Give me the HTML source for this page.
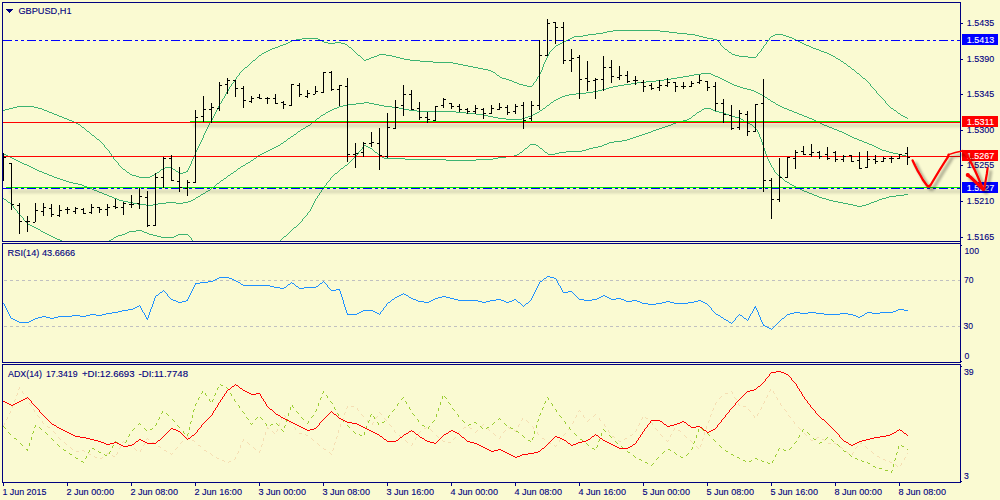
<!DOCTYPE html>
<html><head><meta charset="utf-8"><title>GBPUSD,H1</title>
<style>html,body{margin:0;padding:0;background:#FAFAD2;}body{width:1000px;height:500px;overflow:hidden;}svg{display:block;position:absolute;left:0;top:0;}text{font-family:"Liberation Sans",sans-serif;font-size:9.8px;fill:#000080;stroke:#000080;stroke-width:0.12px;}</style>
</head><body>
<svg width="1000" height="500" viewBox="0 0 1000 500">
<defs>
<clipPath id="cm"><rect x="3" y="3" width="957" height="238"/></clipPath>
<clipPath id="cr"><rect x="3" y="244" width="957" height="118"/></clipPath>
<clipPath id="ca"><rect x="3" y="365" width="957" height="117"/></clipPath>
<linearGradient id="sh" x1="0" y1="0" x2="0" y2="1"><stop offset="0" stop-color="#000" stop-opacity="0.07"/><stop offset="0.25" stop-color="#000" stop-opacity="0.115"/><stop offset="0.5" stop-color="#000" stop-opacity="0.08"/><stop offset="1" stop-color="#000" stop-opacity="0"/></linearGradient>
<filter id="ds" x="-20%" y="-20%" width="150%" height="150%"><feGaussianBlur in="SourceAlpha" stdDeviation="1.6"/><feOffset dx="3" dy="3" result="o"/><feComponentTransfer><feFuncA type="linear" slope="0.45"/></feComponentTransfer><feMerge><feMergeNode/><feMergeNode in="SourceGraphic"/></feMerge></filter>
<filter id="bl" x="-5%" y="-300%" width="110%" height="700%"><feGaussianBlur stdDeviation="1.5"/></filter>
</defs>
<rect width="1000" height="500" fill="#FAFAD2"/>
<g clip-path="url(#cm)" shape-rendering="crispEdges">
<path fill="none" stroke="#3CB371" stroke-width="1" d="M104.5 145v2M109.5 151v2M111.5 154v2M113.5 157v2M118.5 163v2M187.5 170v2M188.5 168v2M189.5 166v2M190.5 164v2M191.5 161v3M192.5 159v2M193.5 157v2M194.5 155v2M195.5 152v3M196.5 150v2M197.5 148v2M198.5 146v2M199.5 144v2M200.5 142v2M201.5 140v2M202.5 138v2M203.5 135v3M204.5 133v2M205.5 131v2M206.5 129v2M207.5 127v2M208.5 125v2M209.5 123v2M211.5 120v2M212.5 118v2M213.5 116v2M214.5 114v2M215.5 112v2M216.5 110v2M217.5 108v2M218.5 106v2M219.5 104v2M221.5 101v2M222.5 99v2M224.5 96v2M225.5 94v2M226.5 92v2M228.5 89v2M229.5 87v2M231.5 84v2M234.5 80v2M236.5 77v2M239.5 73v2M533.5 83v2M536.5 79v2M537.5 77v2M539.5 74v2M540.5 72v2M541.5 70v2M542.5 67v3M543.5 64v3M544.5 62v2M545.5 60v2M546.5 58v2M547.5 56v2M548.5 54v2M549.5 52v2M720.5 43v2M757.5 54v2M761.5 49v2M763.5 46v2M766.5 42v2M769.5 38v2M870.5 84v2M876.5 91v2M885.5 101v2M613 30.5h47M607 31.5h6M660 31.5h9M603 32.5h4M669 32.5h8M596 33.5h7M677 33.5h10M588 34.5h8M687 34.5h8M775 34.5h8M583 35.5h5M695 35.5h4M773 35.5h2M783 35.5h3M574 36.5h9M699 36.5h4M771 36.5h2M786 36.5h3M572 37.5h2M703 37.5h4M770 37.5h1M789 37.5h3M302 38.5h16M570 38.5h2M707 38.5h6M792 38.5h2M296 39.5h6M318 39.5h2M568 39.5h2M713 39.5h4M794 39.5h2M292 40.5h4M320 40.5h2M566 40.5h2M717 40.5h1M768 40.5h1M796 40.5h2M290 41.5h2M322 41.5h2M564 41.5h2M718 41.5h1M767 41.5h1M798 41.5h2M288 42.5h2M324 42.5h4M335 42.5h6M562 42.5h2M719 42.5h1M800 42.5h2M286 43.5h2M328 43.5h7M341 43.5h4M560 43.5h2M802 43.5h2M283 44.5h3M345 44.5h2M558 44.5h2M765 44.5h1M804 44.5h2M280 45.5h3M347 45.5h1M556 45.5h2M721 45.5h1M764 45.5h1M806 45.5h3M278 46.5h2M348 46.5h1M555 46.5h1M722 46.5h1M809 46.5h2M275 47.5h3M349 47.5h2M554 47.5h1M723 47.5h1M811 47.5h2M272 48.5h3M351 48.5h1M553 48.5h1M724 48.5h1M762 48.5h1M813 48.5h3M270 49.5h2M352 49.5h1M552 49.5h1M725 49.5h2M816 49.5h3M268 50.5h2M353 50.5h1M551 50.5h1M727 50.5h1M819 50.5h2M266 51.5h2M354 51.5h1M550 51.5h1M728 51.5h1M760 51.5h1M821 51.5h3M264 52.5h2M355 52.5h1M729 52.5h2M759 52.5h1M824 52.5h3M262 53.5h2M356 53.5h1M731 53.5h1M758 53.5h1M827 53.5h2M261 54.5h1M357 54.5h1M379 54.5h7M732 54.5h3M829 54.5h2M259 55.5h2M358 55.5h2M377 55.5h2M386 55.5h6M735 55.5h4M831 55.5h2M258 56.5h1M360 56.5h1M374 56.5h3M392 56.5h4M739 56.5h9M756 56.5h1M833 56.5h2M257 57.5h1M361 57.5h1M371 57.5h3M396 57.5h4M748 57.5h8M835 57.5h1M256 58.5h1M362 58.5h1M369 58.5h2M400 58.5h4M836 58.5h2M255 59.5h1M363 59.5h1M366 59.5h3M404 59.5h6M838 59.5h2M253 60.5h2M364 60.5h2M410 60.5h10M840 60.5h1M252 61.5h1M420 61.5h13M841 61.5h2M251 62.5h1M433 62.5h20M843 62.5h1M250 63.5h1M453 63.5h5M844 63.5h2M249 64.5h1M458 64.5h5M846 64.5h1M248 65.5h1M463 65.5h5M847 65.5h1M247 66.5h1M468 66.5h5M848 66.5h2M245 67.5h2M473 67.5h5M850 67.5h1M244 68.5h1M478 68.5h5M851 68.5h1M243 69.5h1M483 69.5h5M852 69.5h2M242 70.5h1M488 70.5h3M854 70.5h1M241 71.5h1M491 71.5h2M855 71.5h1M240 72.5h1M493 72.5h2M856 72.5h1M495 73.5h1M857 73.5h2M496 74.5h1M859 74.5h1M238 75.5h1M497 75.5h2M860 75.5h1M237 76.5h1M499 76.5h1M538 76.5h1M861 76.5h1M500 77.5h2M862 77.5h1M502 78.5h4M863 78.5h2M235 79.5h1M506 79.5h3M865 79.5h1M509 80.5h3M866 80.5h1M512 81.5h2M535 81.5h1M867 81.5h1M233 82.5h1M514 82.5h3M534 82.5h1M868 82.5h1M232 83.5h1M517 83.5h2M869 83.5h1M519 84.5h4M523 85.5h4M532 85.5h1M230 86.5h1M527 86.5h5M871 86.5h1M872 87.5h1M873 88.5h1M874 89.5h1M875 90.5h1M227 91.5h1M877 93.5h1M878 94.5h1M879 95.5h1M880 96.5h1M881 97.5h1M223 98.5h1M882 98.5h1M883 99.5h1M884 100.5h1M220 103.5h1M886 103.5h1M887 104.5h1M888 105.5h1M17 106.5h17M889 106.5h1M13 107.5h4M34 107.5h4M890 107.5h1M9 108.5h4M38 108.5h4M891 108.5h2M5 109.5h4M42 109.5h2M893 109.5h1M3 110.5h2M44 110.5h3M894 110.5h2M47 111.5h2M896 111.5h1M49 112.5h3M897 112.5h1M52 113.5h2M898 113.5h2M54 114.5h3M900 114.5h1M57 115.5h2M901 115.5h2M59 116.5h3M903 116.5h2M62 117.5h2M905 117.5h2M64 118.5h3M907 118.5h1M67 119.5h2M69 120.5h3M72 121.5h2M74 122.5h2M210 122.5h1M76 123.5h2M78 124.5h2M80 125.5h1M81 126.5h1M82 127.5h2M84 128.5h1M85 129.5h1M86 130.5h1M87 131.5h2M89 132.5h1M90 133.5h1M91 134.5h1M92 135.5h2M94 136.5h1M95 137.5h1M96 138.5h1M97 139.5h2M99 140.5h1M100 141.5h1M101 142.5h1M102 143.5h1M103 144.5h1M105 147.5h1M106 148.5h1M107 149.5h1M108 150.5h1M110 153.5h1M112 156.5h1M114 159.5h1M115 160.5h1M116 161.5h1M117 162.5h1M119 165.5h1M120 166.5h1M121 167.5h1M165 167.5h7M122 168.5h1M163 168.5h2M172 168.5h1M123 169.5h2M161 169.5h2M173 169.5h2M125 170.5h1M160 170.5h1M175 170.5h1M126 171.5h1M159 171.5h1M176 171.5h2M186 171.5h1M127 172.5h2M157 172.5h2M178 172.5h2M183 172.5h3M129 173.5h1M156 173.5h1M180 173.5h3M130 174.5h2M154 174.5h2M132 175.5h4M152 175.5h2M136 176.5h3M150 176.5h2M139 177.5h11"/>
<path fill="none" stroke="#3CB371" stroke-width="1" d="M701 73.5h10M694 74.5h7M711 74.5h2M689 75.5h5M713 75.5h2M683 76.5h6M715 76.5h3M677 77.5h6M718 77.5h2M671 78.5h6M720 78.5h2M664 79.5h7M722 79.5h2M656 80.5h8M724 80.5h2M646 81.5h10M726 81.5h2M637 82.5h9M728 82.5h2M631 83.5h6M730 83.5h2M624 84.5h7M732 84.5h2M618 85.5h6M734 85.5h3M613 86.5h5M737 86.5h3M609 87.5h4M740 87.5h3M606 88.5h3M743 88.5h4M602 89.5h4M747 89.5h4M598 90.5h4M751 90.5h3M593 91.5h5M754 91.5h2M586 92.5h7M756 92.5h2M576 93.5h10M758 93.5h2M569 94.5h7M760 94.5h2M565 95.5h4M762 95.5h1M562 96.5h3M763 96.5h2M560 97.5h2M765 97.5h2M558 98.5h2M767 98.5h1M556 99.5h2M768 99.5h2M554 100.5h2M770 100.5h1M553 101.5h1M771 101.5h2M364 102.5h5M551 102.5h2M773 102.5h2M356 103.5h8M369 103.5h5M550 103.5h1M775 103.5h1M348 104.5h8M374 104.5h5M549 104.5h1M776 104.5h2M343 105.5h5M379 105.5h5M547 105.5h2M778 105.5h2M339 106.5h4M384 106.5h8M546 106.5h1M780 106.5h2M337 107.5h2M392 107.5h7M545 107.5h1M782 107.5h2M334 108.5h3M399 108.5h4M543 108.5h2M784 108.5h3M332 109.5h2M403 109.5h6M542 109.5h1M787 109.5h2M330 110.5h2M409 110.5h8M540 110.5h2M789 110.5h3M328 111.5h2M417 111.5h39M539 111.5h1M792 111.5h2M326 112.5h2M456 112.5h10M537 112.5h2M794 112.5h3M325 113.5h1M466 113.5h10M535 113.5h2M797 113.5h2M323 114.5h2M476 114.5h7M533 114.5h2M799 114.5h3M321 115.5h2M483 115.5h5M531 115.5h2M802 115.5h2M320 116.5h1M488 116.5h5M528 116.5h3M804 116.5h3M319 117.5h1M493 117.5h5M525 117.5h3M807 117.5h2M317 118.5h2M498 118.5h8M522 118.5h3M809 118.5h3M316 119.5h1M506 119.5h16M812 119.5h2M315 120.5h1M814 120.5h2M314 121.5h1M816 121.5h2M312 122.5h2M818 122.5h2M311 123.5h1M820 123.5h2M310 124.5h1M822 124.5h2M308 125.5h2M824 125.5h3M306 126.5h2M827 126.5h2M305 127.5h1M829 127.5h3M303 128.5h2M832 128.5h2M301 129.5h2M834 129.5h3M300 130.5h1M837 130.5h2M298 131.5h2M839 131.5h3M297 132.5h1M842 132.5h2M296 133.5h1M844 133.5h2M294 134.5h2M846 134.5h2M293 135.5h1M848 135.5h2M291 136.5h2M850 136.5h2M290 137.5h1M852 137.5h2M288 138.5h2M854 138.5h3M287 139.5h1M857 139.5h2M286 140.5h1M859 140.5h3M284 141.5h2M862 141.5h2M283 142.5h1M864 142.5h3M281 143.5h2M867 143.5h2M280 144.5h1M869 144.5h3M278 145.5h2M872 145.5h2M276 146.5h2M874 146.5h2M274 147.5h2M876 147.5h2M272 148.5h2M878 148.5h2M270 149.5h2M880 149.5h2M268 150.5h2M882 150.5h4M266 151.5h2M886 151.5h3M264 152.5h2M889 152.5h4M262 153.5h2M893 153.5h5M4 154.5h2M260 154.5h2M898 154.5h4M6 155.5h2M258 155.5h2M902 155.5h4M8 156.5h2M257 156.5h1M906 156.5h2M10 157.5h2M256 157.5h1M12 158.5h2M254 158.5h2M14 159.5h2M253 159.5h1M16 160.5h2M251 160.5h2M18 161.5h2M250 161.5h1M20 162.5h2M248 162.5h2M22 163.5h2M246 163.5h2M24 164.5h3M245 164.5h1M27 165.5h2M243 165.5h2M29 166.5h2M241 166.5h2M31 167.5h2M240 167.5h1M33 168.5h2M238 168.5h2M35 169.5h2M237 169.5h1M37 170.5h2M236 170.5h1M39 171.5h3M234 171.5h2M42 172.5h2M233 172.5h1M44 173.5h3M231 173.5h2M47 174.5h2M230 174.5h1M49 175.5h3M228 175.5h2M52 176.5h2M227 176.5h1M54 177.5h3M226 177.5h1M57 178.5h3M224 178.5h2M60 179.5h3M223 179.5h1M63 180.5h3M221 180.5h2M66 181.5h3M220 181.5h1M69 182.5h4M219 182.5h1M73 183.5h5M217 183.5h2M78 184.5h4M216 184.5h1M82 185.5h2M215 185.5h1M84 186.5h3M214 186.5h1M87 187.5h2M212 187.5h2M89 188.5h3M211 188.5h1M92 189.5h2M210 189.5h1M94 190.5h3M208 190.5h2M97 191.5h2M206 191.5h2M99 192.5h3M205 192.5h1M102 193.5h2M203 193.5h2M104 194.5h3M201 194.5h2M107 195.5h2M200 195.5h1M109 196.5h3M198 196.5h2M112 197.5h2M196 197.5h2M114 198.5h3M195 198.5h1M117 199.5h2M193 199.5h2M119 200.5h4M191 200.5h2M123 201.5h5M188 201.5h3M128 202.5h5M166 202.5h10M183 202.5h5M133 203.5h5M158 203.5h8M176 203.5h7M138 204.5h8M153 204.5h5M146 205.5h7"/>
<path fill="none" stroke="#3CB371" stroke-width="1" d="M13.5 206v2M17.5 211v2M23.5 218v2M191.5 238v2M302.5 219v2M307.5 213v2M310.5 209v2M311.5 207v2M312.5 205v2M313.5 203v2M314.5 201v2M315.5 199v2M317.5 196v2M319.5 193v2M321.5 190v2M323.5 187v2M326.5 183v2M330.5 178v2M358.5 152v2M362.5 147v2M757.5 130v2M758.5 132v2M759.5 134v3M760.5 137v2M761.5 139v3M762.5 142v3M763.5 145v3M764.5 148v3M765.5 151v3M766.5 154v2M767.5 156v3M768.5 159v2M769.5 161v2M770.5 163v2M771.5 165v2M773.5 168v2M774.5 170v2M704 108.5h7M702 109.5h2M711 109.5h2M701 110.5h1M713 110.5h2M699 111.5h2M715 111.5h4M697 112.5h2M719 112.5h4M696 113.5h1M723 113.5h3M695 114.5h1M726 114.5h3M693 115.5h2M729 115.5h2M692 116.5h1M731 116.5h4M691 117.5h1M735 117.5h4M689 118.5h2M739 118.5h2M687 119.5h2M741 119.5h2M683 120.5h4M743 120.5h1M679 121.5h4M744 121.5h2M676 122.5h3M746 122.5h2M673 123.5h3M748 123.5h2M671 124.5h2M750 124.5h2M668 125.5h3M752 125.5h1M665 126.5h3M753 126.5h1M662 127.5h3M754 127.5h1M659 128.5h3M755 128.5h1M656 129.5h3M756 129.5h1M653 130.5h3M651 131.5h2M648 132.5h3M645 133.5h3M642 134.5h3M639 135.5h3M636 136.5h3M633 137.5h3M630 138.5h3M627 139.5h3M622 140.5h5M614 141.5h8M609 142.5h5M607 143.5h2M530 144.5h6M604 144.5h3M364 145.5h2M529 145.5h1M536 145.5h2M602 145.5h2M363 146.5h1M366 146.5h2M528 146.5h1M538 146.5h1M598 146.5h4M368 147.5h2M527 147.5h1M539 147.5h1M593 147.5h5M370 148.5h2M525 148.5h2M540 148.5h2M589 148.5h4M361 149.5h1M372 149.5h1M524 149.5h1M542 149.5h1M586 149.5h3M360 150.5h1M373 150.5h1M523 150.5h1M543 150.5h1M582 150.5h4M359 151.5h1M374 151.5h1M522 151.5h1M544 151.5h1M566 151.5h16M375 152.5h2M520 152.5h2M545 152.5h2M559 152.5h7M377 153.5h1M519 153.5h1M547 153.5h1M555 153.5h4M357 154.5h1M378 154.5h1M517 154.5h2M548 154.5h7M356 155.5h1M379 155.5h1M514 155.5h3M355 156.5h1M380 156.5h2M506 156.5h8M354 157.5h1M382 157.5h2M498 157.5h8M353 158.5h1M384 158.5h21M493 158.5h5M352 159.5h1M405 159.5h41M476 159.5h17M351 160.5h1M446 160.5h30M350 161.5h1M349 162.5h1M348 163.5h1M347 164.5h1M345 165.5h2M344 166.5h1M343 167.5h1M772 167.5h1M341 168.5h2M340 169.5h1M339 170.5h1M338 171.5h1M337 172.5h1M775 172.5h1M335 173.5h2M776 173.5h1M334 174.5h1M777 174.5h1M333 175.5h1M778 175.5h1M332 176.5h1M779 176.5h2M331 177.5h1M781 177.5h1M782 178.5h1M783 179.5h1M329 180.5h1M784 180.5h1M328 181.5h1M785 181.5h2M327 182.5h1M787 182.5h2M789 183.5h1M790 184.5h2M325 185.5h1M792 185.5h2M324 186.5h1M794 186.5h2M796 187.5h2M798 188.5h2M322 189.5h1M800 189.5h2M802 190.5h2M804 191.5h3M320 192.5h1M807 192.5h2M809 193.5h3M812 194.5h2M904 194.5h4M318 195.5h1M814 195.5h3M896 195.5h8M817 196.5h2M889 196.5h7M819 197.5h3M886 197.5h3M3 198.5h1M316 198.5h1M822 198.5h4M882 198.5h4M4 199.5h2M826 199.5h3M879 199.5h3M6 200.5h1M829 200.5h4M877 200.5h2M7 201.5h1M833 201.5h5M874 201.5h3M8 202.5h2M838 202.5h5M871 202.5h3M10 203.5h1M843 203.5h5M869 203.5h2M11 204.5h1M848 204.5h5M866 204.5h3M12 205.5h1M853 205.5h4M862 205.5h4M857 206.5h5M14 208.5h1M15 209.5h1M16 210.5h1M309 211.5h1M308 212.5h1M18 213.5h1M19 214.5h1M20 215.5h1M306 215.5h1M21 216.5h1M305 216.5h1M22 217.5h1M304 217.5h1M303 218.5h1M24 220.5h1M25 221.5h1M301 221.5h1M26 222.5h1M300 222.5h1M27 223.5h1M299 223.5h1M28 224.5h2M298 224.5h1M30 225.5h2M297 225.5h1M32 226.5h2M296 226.5h1M34 227.5h2M294 227.5h2M36 228.5h2M293 228.5h1M38 229.5h2M292 229.5h1M40 230.5h1M136 230.5h6M291 230.5h1M41 231.5h2M129 231.5h7M142 231.5h2M290 231.5h1M43 232.5h2M127 232.5h2M144 232.5h3M289 232.5h1M45 233.5h2M125 233.5h2M147 233.5h2M288 233.5h1M47 234.5h2M122 234.5h3M149 234.5h4M178 234.5h10M287 234.5h1M49 235.5h2M118 235.5h4M153 235.5h4M176 235.5h2M188 235.5h1M286 235.5h1M51 236.5h2M116 236.5h2M157 236.5h4M174 236.5h2M189 236.5h1M284 236.5h2M53 237.5h2M114 237.5h2M161 237.5h13M190 237.5h1M283 237.5h1M55 238.5h2M113 238.5h1M282 238.5h1M57 239.5h3M111 239.5h2M281 239.5h1M60 240.5h2M109 240.5h2M192 240.5h1M280 240.5h1"/>
<rect x="193" y="123.5" width="790" height="3.6" fill="#000" fill-opacity="0.15" filter="url(#bl)"/>
<rect x="9" y="189.5" width="980" height="3.6" fill="#000" fill-opacity="0.15" filter="url(#bl)"/>
<line x1="3" y1="40.5" x2="960" y2="40.5" stroke="#0000FF" stroke-width="1" stroke-dasharray="9 3 3 3 3 3"/>
<rect x="3" y="122" width="957" height="1" fill="#FF0000" />
<rect x="190" y="121" width="770" height="1" fill="#00E800" />
<rect x="3" y="156" width="957" height="1" fill="#FF0000" />
<rect x="6" y="187" width="954" height="1" fill="#00E800" />
<line x1="3" y1="188.5" x2="960" y2="188.5" stroke="#0000FF" stroke-width="1" stroke-dasharray="9 3 3 3 3 3"/>
<rect x="3" y="153" width="1" height="28" fill="#000"/>
<rect x="4" y="157" width="2" height="1" fill="#000"/>
<rect x="11" y="163" width="1" height="47" fill="#000"/>
<rect x="9" y="163" width="2" height="1" fill="#000"/>
<rect x="12" y="204" width="2" height="1" fill="#000"/>
<rect x="19" y="203" width="1" height="31" fill="#000"/>
<rect x="17" y="205" width="2" height="1" fill="#000"/>
<rect x="20" y="221" width="2" height="1" fill="#000"/>
<rect x="27" y="216" width="1" height="16" fill="#000"/>
<rect x="25" y="221" width="2" height="1" fill="#000"/>
<rect x="28" y="221" width="2" height="1" fill="#000"/>
<rect x="35" y="203" width="1" height="19" fill="#000"/>
<rect x="33" y="222" width="2" height="1" fill="#000"/>
<rect x="36" y="210" width="2" height="1" fill="#000"/>
<rect x="43" y="203" width="1" height="13" fill="#000"/>
<rect x="41" y="211" width="2" height="1" fill="#000"/>
<rect x="44" y="207" width="2" height="1" fill="#000"/>
<rect x="51" y="204" width="1" height="13" fill="#000"/>
<rect x="49" y="208" width="2" height="1" fill="#000"/>
<rect x="52" y="214" width="2" height="1" fill="#000"/>
<rect x="59" y="205" width="1" height="12" fill="#000"/>
<rect x="57" y="215" width="2" height="1" fill="#000"/>
<rect x="60" y="210" width="2" height="1" fill="#000"/>
<rect x="67" y="207" width="1" height="7" fill="#000"/>
<rect x="65" y="209" width="2" height="1" fill="#000"/>
<rect x="68" y="209" width="2" height="1" fill="#000"/>
<rect x="75" y="207" width="1" height="7" fill="#000"/>
<rect x="73" y="211" width="2" height="1" fill="#000"/>
<rect x="76" y="208" width="2" height="1" fill="#000"/>
<rect x="83" y="208" width="1" height="6" fill="#000"/>
<rect x="81" y="209" width="2" height="1" fill="#000"/>
<rect x="84" y="213" width="2" height="1" fill="#000"/>
<rect x="91" y="204" width="1" height="10" fill="#000"/>
<rect x="89" y="212" width="2" height="1" fill="#000"/>
<rect x="92" y="207" width="2" height="1" fill="#000"/>
<rect x="99" y="207" width="1" height="6" fill="#000"/>
<rect x="97" y="207" width="2" height="1" fill="#000"/>
<rect x="100" y="209" width="2" height="1" fill="#000"/>
<rect x="107" y="204" width="1" height="12" fill="#000"/>
<rect x="105" y="209" width="2" height="1" fill="#000"/>
<rect x="108" y="207" width="2" height="1" fill="#000"/>
<rect x="115" y="199" width="1" height="10" fill="#000"/>
<rect x="113" y="206" width="2" height="1" fill="#000"/>
<rect x="116" y="207" width="2" height="1" fill="#000"/>
<rect x="123" y="202" width="1" height="13" fill="#000"/>
<rect x="121" y="207" width="2" height="1" fill="#000"/>
<rect x="124" y="203" width="2" height="1" fill="#000"/>
<rect x="131" y="195" width="1" height="13" fill="#000"/>
<rect x="129" y="204" width="2" height="1" fill="#000"/>
<rect x="132" y="204" width="2" height="1" fill="#000"/>
<rect x="139" y="188" width="1" height="21" fill="#000"/>
<rect x="137" y="203" width="2" height="1" fill="#000"/>
<rect x="140" y="196" width="2" height="1" fill="#000"/>
<rect x="147" y="191" width="1" height="36" fill="#000"/>
<rect x="145" y="197" width="2" height="1" fill="#000"/>
<rect x="148" y="225" width="2" height="1" fill="#000"/>
<rect x="155" y="173" width="1" height="53" fill="#000"/>
<rect x="153" y="225" width="2" height="1" fill="#000"/>
<rect x="156" y="177" width="2" height="1" fill="#000"/>
<rect x="163" y="157" width="1" height="31" fill="#000"/>
<rect x="161" y="177" width="2" height="1" fill="#000"/>
<rect x="164" y="158" width="2" height="1" fill="#000"/>
<rect x="171" y="155" width="1" height="26" fill="#000"/>
<rect x="169" y="158" width="2" height="1" fill="#000"/>
<rect x="172" y="180" width="2" height="1" fill="#000"/>
<rect x="179" y="167" width="1" height="25" fill="#000"/>
<rect x="177" y="181" width="2" height="1" fill="#000"/>
<rect x="180" y="187" width="2" height="1" fill="#000"/>
<rect x="187" y="180" width="1" height="16" fill="#000"/>
<rect x="185" y="188" width="2" height="1" fill="#000"/>
<rect x="188" y="182" width="2" height="1" fill="#000"/>
<rect x="195" y="110" width="1" height="73" fill="#000"/>
<rect x="193" y="182" width="2" height="1" fill="#000"/>
<rect x="196" y="117" width="2" height="1" fill="#000"/>
<rect x="203" y="96" width="1" height="26" fill="#000"/>
<rect x="201" y="116" width="2" height="1" fill="#000"/>
<rect x="204" y="109" width="2" height="1" fill="#000"/>
<rect x="211" y="103" width="1" height="20" fill="#000"/>
<rect x="209" y="109" width="2" height="1" fill="#000"/>
<rect x="212" y="107" width="2" height="1" fill="#000"/>
<rect x="219" y="82" width="1" height="29" fill="#000"/>
<rect x="217" y="108" width="2" height="1" fill="#000"/>
<rect x="220" y="85" width="2" height="1" fill="#000"/>
<rect x="227" y="78" width="1" height="16" fill="#000"/>
<rect x="225" y="84" width="2" height="1" fill="#000"/>
<rect x="228" y="80" width="2" height="1" fill="#000"/>
<rect x="235" y="80" width="1" height="17" fill="#000"/>
<rect x="233" y="80" width="2" height="1" fill="#000"/>
<rect x="236" y="88" width="2" height="1" fill="#000"/>
<rect x="243" y="86" width="1" height="22" fill="#000"/>
<rect x="241" y="88" width="2" height="1" fill="#000"/>
<rect x="244" y="100" width="2" height="1" fill="#000"/>
<rect x="251" y="96" width="1" height="7" fill="#000"/>
<rect x="249" y="101" width="2" height="1" fill="#000"/>
<rect x="252" y="98" width="2" height="1" fill="#000"/>
<rect x="259" y="94" width="1" height="5" fill="#000"/>
<rect x="257" y="97" width="2" height="1" fill="#000"/>
<rect x="260" y="98" width="2" height="1" fill="#000"/>
<rect x="267" y="97" width="1" height="7" fill="#000"/>
<rect x="265" y="98" width="2" height="1" fill="#000"/>
<rect x="268" y="98" width="2" height="1" fill="#000"/>
<rect x="275" y="94" width="1" height="10" fill="#000"/>
<rect x="273" y="98" width="2" height="1" fill="#000"/>
<rect x="276" y="103" width="2" height="1" fill="#000"/>
<rect x="283" y="101" width="1" height="8" fill="#000"/>
<rect x="281" y="102" width="2" height="1" fill="#000"/>
<rect x="284" y="104" width="2" height="1" fill="#000"/>
<rect x="291" y="84" width="1" height="22" fill="#000"/>
<rect x="289" y="105" width="2" height="1" fill="#000"/>
<rect x="292" y="84" width="2" height="1" fill="#000"/>
<rect x="299" y="83" width="1" height="14" fill="#000"/>
<rect x="297" y="85" width="2" height="1" fill="#000"/>
<rect x="300" y="94" width="2" height="1" fill="#000"/>
<rect x="307" y="90" width="1" height="8" fill="#000"/>
<rect x="305" y="96" width="2" height="1" fill="#000"/>
<rect x="308" y="93" width="2" height="1" fill="#000"/>
<rect x="315" y="86" width="1" height="8" fill="#000"/>
<rect x="313" y="94" width="2" height="1" fill="#000"/>
<rect x="316" y="91" width="2" height="1" fill="#000"/>
<rect x="323" y="72" width="1" height="21" fill="#000"/>
<rect x="321" y="92" width="2" height="1" fill="#000"/>
<rect x="324" y="72" width="2" height="1" fill="#000"/>
<rect x="331" y="71" width="1" height="20" fill="#000"/>
<rect x="329" y="72" width="2" height="1" fill="#000"/>
<rect x="332" y="89" width="2" height="1" fill="#000"/>
<rect x="339" y="85" width="1" height="21" fill="#000"/>
<rect x="337" y="89" width="2" height="1" fill="#000"/>
<rect x="340" y="85" width="2" height="1" fill="#000"/>
<rect x="347" y="78" width="1" height="84" fill="#000"/>
<rect x="345" y="86" width="2" height="1" fill="#000"/>
<rect x="348" y="154" width="2" height="1" fill="#000"/>
<rect x="355" y="143" width="1" height="25" fill="#000"/>
<rect x="353" y="154" width="2" height="1" fill="#000"/>
<rect x="356" y="153" width="2" height="1" fill="#000"/>
<rect x="363" y="142" width="1" height="15" fill="#000"/>
<rect x="361" y="152" width="2" height="1" fill="#000"/>
<rect x="364" y="143" width="2" height="1" fill="#000"/>
<rect x="371" y="132" width="1" height="15" fill="#000"/>
<rect x="369" y="143" width="2" height="1" fill="#000"/>
<rect x="372" y="142" width="2" height="1" fill="#000"/>
<rect x="379" y="128" width="1" height="42" fill="#000"/>
<rect x="377" y="143" width="2" height="1" fill="#000"/>
<rect x="380" y="155" width="2" height="1" fill="#000"/>
<rect x="387" y="113" width="1" height="45" fill="#000"/>
<rect x="385" y="156" width="2" height="1" fill="#000"/>
<rect x="388" y="127" width="2" height="1" fill="#000"/>
<rect x="395" y="100" width="1" height="29" fill="#000"/>
<rect x="393" y="128" width="2" height="1" fill="#000"/>
<rect x="396" y="107" width="2" height="1" fill="#000"/>
<rect x="403" y="85" width="1" height="31" fill="#000"/>
<rect x="401" y="105" width="2" height="1" fill="#000"/>
<rect x="404" y="94" width="2" height="1" fill="#000"/>
<rect x="411" y="90" width="1" height="20" fill="#000"/>
<rect x="409" y="94" width="2" height="1" fill="#000"/>
<rect x="412" y="109" width="2" height="1" fill="#000"/>
<rect x="419" y="102" width="1" height="18" fill="#000"/>
<rect x="417" y="108" width="2" height="1" fill="#000"/>
<rect x="420" y="117" width="2" height="1" fill="#000"/>
<rect x="427" y="112" width="1" height="11" fill="#000"/>
<rect x="425" y="117" width="2" height="1" fill="#000"/>
<rect x="428" y="119" width="2" height="1" fill="#000"/>
<rect x="435" y="106" width="1" height="15" fill="#000"/>
<rect x="433" y="120" width="2" height="1" fill="#000"/>
<rect x="436" y="106" width="2" height="1" fill="#000"/>
<rect x="443" y="98" width="1" height="10" fill="#000"/>
<rect x="441" y="105" width="2" height="1" fill="#000"/>
<rect x="444" y="99" width="2" height="1" fill="#000"/>
<rect x="451" y="103" width="1" height="6" fill="#000"/>
<rect x="449" y="103" width="2" height="1" fill="#000"/>
<rect x="452" y="106" width="2" height="1" fill="#000"/>
<rect x="459" y="104" width="1" height="8" fill="#000"/>
<rect x="457" y="106" width="2" height="1" fill="#000"/>
<rect x="460" y="109" width="2" height="1" fill="#000"/>
<rect x="467" y="108" width="1" height="6" fill="#000"/>
<rect x="465" y="109" width="2" height="1" fill="#000"/>
<rect x="468" y="111" width="2" height="1" fill="#000"/>
<rect x="475" y="105" width="1" height="9" fill="#000"/>
<rect x="473" y="111" width="2" height="1" fill="#000"/>
<rect x="476" y="108" width="2" height="1" fill="#000"/>
<rect x="483" y="108" width="1" height="11" fill="#000"/>
<rect x="481" y="109" width="2" height="1" fill="#000"/>
<rect x="484" y="113" width="2" height="1" fill="#000"/>
<rect x="491" y="105" width="1" height="9" fill="#000"/>
<rect x="489" y="113" width="2" height="1" fill="#000"/>
<rect x="492" y="108" width="2" height="1" fill="#000"/>
<rect x="499" y="103" width="1" height="7" fill="#000"/>
<rect x="497" y="109" width="2" height="1" fill="#000"/>
<rect x="500" y="107" width="2" height="1" fill="#000"/>
<rect x="507" y="105" width="1" height="10" fill="#000"/>
<rect x="505" y="107" width="2" height="1" fill="#000"/>
<rect x="508" y="112" width="2" height="1" fill="#000"/>
<rect x="515" y="104" width="1" height="10" fill="#000"/>
<rect x="513" y="111" width="2" height="1" fill="#000"/>
<rect x="516" y="106" width="2" height="1" fill="#000"/>
<rect x="523" y="102" width="1" height="27" fill="#000"/>
<rect x="521" y="105" width="2" height="1" fill="#000"/>
<rect x="524" y="120" width="2" height="1" fill="#000"/>
<rect x="531" y="101" width="1" height="20" fill="#000"/>
<rect x="529" y="118" width="2" height="1" fill="#000"/>
<rect x="532" y="105" width="2" height="1" fill="#000"/>
<rect x="539" y="40" width="1" height="70" fill="#000"/>
<rect x="537" y="105" width="2" height="1" fill="#000"/>
<rect x="540" y="55" width="2" height="1" fill="#000"/>
<rect x="547" y="19" width="1" height="37" fill="#000"/>
<rect x="545" y="55" width="2" height="1" fill="#000"/>
<rect x="548" y="23" width="2" height="1" fill="#000"/>
<rect x="555" y="22" width="1" height="22" fill="#000"/>
<rect x="553" y="22" width="2" height="1" fill="#000"/>
<rect x="556" y="27" width="2" height="1" fill="#000"/>
<rect x="563" y="22" width="1" height="42" fill="#000"/>
<rect x="561" y="27" width="2" height="1" fill="#000"/>
<rect x="564" y="60" width="2" height="1" fill="#000"/>
<rect x="571" y="49" width="1" height="23" fill="#000"/>
<rect x="569" y="60" width="2" height="1" fill="#000"/>
<rect x="572" y="58" width="2" height="1" fill="#000"/>
<rect x="579" y="55" width="1" height="44" fill="#000"/>
<rect x="577" y="57" width="2" height="1" fill="#000"/>
<rect x="580" y="79" width="2" height="1" fill="#000"/>
<rect x="587" y="61" width="1" height="30" fill="#000"/>
<rect x="585" y="78" width="2" height="1" fill="#000"/>
<rect x="588" y="81" width="2" height="1" fill="#000"/>
<rect x="595" y="78" width="1" height="21" fill="#000"/>
<rect x="593" y="80" width="2" height="1" fill="#000"/>
<rect x="596" y="79" width="2" height="1" fill="#000"/>
<rect x="603" y="56" width="1" height="35" fill="#000"/>
<rect x="601" y="79" width="2" height="1" fill="#000"/>
<rect x="604" y="67" width="2" height="1" fill="#000"/>
<rect x="611" y="60" width="1" height="23" fill="#000"/>
<rect x="609" y="67" width="2" height="1" fill="#000"/>
<rect x="612" y="76" width="2" height="1" fill="#000"/>
<rect x="619" y="66" width="1" height="14" fill="#000"/>
<rect x="617" y="77" width="2" height="1" fill="#000"/>
<rect x="620" y="75" width="2" height="1" fill="#000"/>
<rect x="627" y="71" width="1" height="12" fill="#000"/>
<rect x="625" y="75" width="2" height="1" fill="#000"/>
<rect x="628" y="81" width="2" height="1" fill="#000"/>
<rect x="635" y="76" width="1" height="9" fill="#000"/>
<rect x="633" y="80" width="2" height="1" fill="#000"/>
<rect x="636" y="80" width="2" height="1" fill="#000"/>
<rect x="643" y="80" width="1" height="12" fill="#000"/>
<rect x="641" y="82" width="2" height="1" fill="#000"/>
<rect x="644" y="86" width="2" height="1" fill="#000"/>
<rect x="651" y="83" width="1" height="7" fill="#000"/>
<rect x="649" y="85" width="2" height="1" fill="#000"/>
<rect x="652" y="88" width="2" height="1" fill="#000"/>
<rect x="659" y="80" width="1" height="11" fill="#000"/>
<rect x="657" y="87" width="2" height="1" fill="#000"/>
<rect x="660" y="85" width="2" height="1" fill="#000"/>
<rect x="667" y="78" width="1" height="9" fill="#000"/>
<rect x="665" y="85" width="2" height="1" fill="#000"/>
<rect x="668" y="82" width="2" height="1" fill="#000"/>
<rect x="675" y="82" width="1" height="10" fill="#000"/>
<rect x="673" y="82" width="2" height="1" fill="#000"/>
<rect x="676" y="86" width="2" height="1" fill="#000"/>
<rect x="683" y="82" width="1" height="7" fill="#000"/>
<rect x="681" y="86" width="2" height="1" fill="#000"/>
<rect x="684" y="86" width="2" height="1" fill="#000"/>
<rect x="691" y="81" width="1" height="6" fill="#000"/>
<rect x="689" y="86" width="2" height="1" fill="#000"/>
<rect x="692" y="83" width="2" height="1" fill="#000"/>
<rect x="699" y="75" width="1" height="9" fill="#000"/>
<rect x="697" y="82" width="2" height="1" fill="#000"/>
<rect x="700" y="80" width="2" height="1" fill="#000"/>
<rect x="707" y="81" width="1" height="10" fill="#000"/>
<rect x="705" y="81" width="2" height="1" fill="#000"/>
<rect x="708" y="87" width="2" height="1" fill="#000"/>
<rect x="715" y="82" width="1" height="29" fill="#000"/>
<rect x="713" y="86" width="2" height="1" fill="#000"/>
<rect x="716" y="103" width="2" height="1" fill="#000"/>
<rect x="723" y="99" width="1" height="24" fill="#000"/>
<rect x="721" y="103" width="2" height="1" fill="#000"/>
<rect x="724" y="114" width="2" height="1" fill="#000"/>
<rect x="731" y="105" width="1" height="25" fill="#000"/>
<rect x="729" y="115" width="2" height="1" fill="#000"/>
<rect x="732" y="128" width="2" height="1" fill="#000"/>
<rect x="739" y="110" width="1" height="20" fill="#000"/>
<rect x="737" y="127" width="2" height="1" fill="#000"/>
<rect x="740" y="113" width="2" height="1" fill="#000"/>
<rect x="747" y="111" width="1" height="25" fill="#000"/>
<rect x="745" y="114" width="2" height="1" fill="#000"/>
<rect x="748" y="131" width="2" height="1" fill="#000"/>
<rect x="755" y="104" width="1" height="28" fill="#000"/>
<rect x="753" y="131" width="2" height="1" fill="#000"/>
<rect x="756" y="104" width="2" height="1" fill="#000"/>
<rect x="763" y="79" width="1" height="113" fill="#000"/>
<rect x="761" y="103" width="2" height="1" fill="#000"/>
<rect x="764" y="180" width="2" height="1" fill="#000"/>
<rect x="771" y="178" width="1" height="41" fill="#000"/>
<rect x="769" y="180" width="2" height="1" fill="#000"/>
<rect x="772" y="199" width="2" height="1" fill="#000"/>
<rect x="779" y="158" width="1" height="44" fill="#000"/>
<rect x="777" y="199" width="2" height="1" fill="#000"/>
<rect x="780" y="177" width="2" height="1" fill="#000"/>
<rect x="787" y="157" width="1" height="21" fill="#000"/>
<rect x="785" y="177" width="2" height="1" fill="#000"/>
<rect x="788" y="157" width="2" height="1" fill="#000"/>
<rect x="795" y="150" width="1" height="19" fill="#000"/>
<rect x="793" y="158" width="2" height="1" fill="#000"/>
<rect x="796" y="152" width="2" height="1" fill="#000"/>
<rect x="803" y="146" width="1" height="9" fill="#000"/>
<rect x="801" y="151" width="2" height="1" fill="#000"/>
<rect x="804" y="154" width="2" height="1" fill="#000"/>
<rect x="811" y="144" width="1" height="13" fill="#000"/>
<rect x="809" y="154" width="2" height="1" fill="#000"/>
<rect x="812" y="152" width="2" height="1" fill="#000"/>
<rect x="819" y="151" width="1" height="8" fill="#000"/>
<rect x="817" y="152" width="2" height="1" fill="#000"/>
<rect x="820" y="156" width="2" height="1" fill="#000"/>
<rect x="827" y="147" width="1" height="13" fill="#000"/>
<rect x="825" y="154" width="2" height="1" fill="#000"/>
<rect x="828" y="158" width="2" height="1" fill="#000"/>
<rect x="835" y="151" width="1" height="11" fill="#000"/>
<rect x="833" y="152" width="2" height="1" fill="#000"/>
<rect x="836" y="159" width="2" height="1" fill="#000"/>
<rect x="843" y="155" width="1" height="7" fill="#000"/>
<rect x="841" y="159" width="2" height="1" fill="#000"/>
<rect x="844" y="156" width="2" height="1" fill="#000"/>
<rect x="851" y="155" width="1" height="7" fill="#000"/>
<rect x="849" y="155" width="2" height="1" fill="#000"/>
<rect x="852" y="161" width="2" height="1" fill="#000"/>
<rect x="859" y="152" width="1" height="17" fill="#000"/>
<rect x="857" y="160" width="2" height="1" fill="#000"/>
<rect x="860" y="168" width="2" height="1" fill="#000"/>
<rect x="867" y="151" width="1" height="17" fill="#000"/>
<rect x="865" y="167" width="2" height="1" fill="#000"/>
<rect x="868" y="159" width="2" height="1" fill="#000"/>
<rect x="875" y="155" width="1" height="9" fill="#000"/>
<rect x="873" y="159" width="2" height="1" fill="#000"/>
<rect x="876" y="161" width="2" height="1" fill="#000"/>
<rect x="883" y="157" width="1" height="5" fill="#000"/>
<rect x="881" y="161" width="2" height="1" fill="#000"/>
<rect x="884" y="158" width="2" height="1" fill="#000"/>
<rect x="891" y="156" width="1" height="7" fill="#000"/>
<rect x="889" y="158" width="2" height="1" fill="#000"/>
<rect x="892" y="158" width="2" height="1" fill="#000"/>
<rect x="899" y="154" width="1" height="5" fill="#000"/>
<rect x="897" y="158" width="2" height="1" fill="#000"/>
<rect x="900" y="154" width="2" height="1" fill="#000"/>
<rect x="907" y="147" width="1" height="18" fill="#000"/>
<rect x="905" y="153" width="2" height="1" fill="#000"/>
<rect x="908" y="157" width="2" height="1" fill="#000"/>
</g>
<g clip-path="url(#cr)" shape-rendering="crispEdges">
<line x1="4" y1="280.5" x2="960" y2="280.5" stroke="#C0C0C0" stroke-width="1" stroke-dasharray="3 3"/>
<line x1="4" y1="326.5" x2="960" y2="326.5" stroke="#C0C0C0" stroke-width="1" stroke-dasharray="3 3"/>
<path fill="none" stroke="#1E90FF" stroke-width="1" d="M4.5 304v2M5.5 306v2M6.5 308v2M7.5 310v2M8.5 312v2M9.5 314v2M10.5 316v2M140.5 306v2M141.5 308v2M142.5 310v2M144.5 313v2M145.5 315v2M146.5 317v2M147.5 318v2M148.5 315v3M149.5 312v3M150.5 309v3M151.5 307v2M152.5 304v3M153.5 301v3M154.5 298v3M155.5 296v2M167.5 294v2M187.5 299v2M188.5 297v2M189.5 295v2M190.5 293v2M191.5 291v2M192.5 289v2M193.5 287v2M194.5 285v2M327.5 285v2M339.5 289v2M340.5 291v3M341.5 294v3M342.5 297v3M343.5 300v4M344.5 304v3M345.5 307v3M346.5 310v3M347.5 313v2M380.5 312v2M383.5 308v2M386.5 304v2M531.5 298v2M532.5 296v2M533.5 294v2M534.5 292v2M535.5 290v2M536.5 288v2M537.5 286v2M538.5 284v2M539.5 282v2M556.5 279v2M557.5 281v2M558.5 283v2M560.5 286v2M561.5 288v2M562.5 290v2M711.5 308v2M735.5 318v2M748.5 318v2M749.5 316v2M750.5 314v2M752.5 311v2M753.5 309v2M755.5 306v2M756.5 308v2M757.5 310v2M758.5 312v3M759.5 315v2M760.5 317v3M761.5 320v2M762.5 322v2M763.5 324v2M547 276.5h3M219 277.5h10M546 277.5h1M550 277.5h4M217 278.5h2M229 278.5h3M544 278.5h2M554 278.5h2M215 279.5h2M232 279.5h2M543 279.5h1M213 280.5h2M234 280.5h2M542 280.5h1M208 281.5h5M236 281.5h2M323 281.5h1M540 281.5h2M200 282.5h8M238 282.5h2M291 282.5h1M322 282.5h1M324 282.5h1M195 283.5h5M240 283.5h1M290 283.5h1M292 283.5h2M320 283.5h2M325 283.5h1M195 284.5h1M241 284.5h2M288 284.5h2M294 284.5h1M319 284.5h1M326 284.5h1M243 285.5h27M287 285.5h1M295 285.5h1M318 285.5h1M559 285.5h1M270 286.5h4M286 286.5h1M296 286.5h2M316 286.5h2M274 287.5h6M284 287.5h2M298 287.5h1M304 287.5h12M328 287.5h1M280 288.5h4M299 288.5h5M329 288.5h1M330 289.5h1M336 289.5h3M163 290.5h1M331 290.5h5M162 291.5h1M164 291.5h1M568 291.5h4M160 292.5h2M165 292.5h1M563 292.5h5M572 292.5h1M159 293.5h1M166 293.5h1M403 293.5h1M573 293.5h1M158 294.5h1M401 294.5h2M404 294.5h2M574 294.5h1M156 295.5h2M399 295.5h2M406 295.5h2M575 295.5h1M603 295.5h2M168 296.5h1M397 296.5h2M408 296.5h1M442 296.5h4M576 296.5h1M601 296.5h2M605 296.5h2M169 297.5h1M395 297.5h2M409 297.5h2M438 297.5h4M446 297.5h4M577 297.5h1M599 297.5h2M607 297.5h2M170 298.5h1M394 298.5h1M411 298.5h2M435 298.5h3M450 298.5h4M578 298.5h1M597 298.5h2M609 298.5h2M616 298.5h5M171 299.5h2M392 299.5h2M413 299.5h3M433 299.5h2M454 299.5h4M496 299.5h5M514 299.5h2M579 299.5h5M592 299.5h5M611 299.5h5M621 299.5h3M173 300.5h3M186 300.5h1M391 300.5h1M416 300.5h2M431 300.5h2M458 300.5h20M490 300.5h6M501 300.5h3M512 300.5h2M516 300.5h1M530 300.5h1M584 300.5h8M624 300.5h2M632 300.5h5M698 300.5h3M176 301.5h2M182 301.5h4M390 301.5h1M418 301.5h6M429 301.5h2M478 301.5h4M486 301.5h4M504 301.5h2M509 301.5h3M517 301.5h1M529 301.5h1M626 301.5h6M637 301.5h3M666 301.5h4M694 301.5h4M701 301.5h2M178 302.5h4M388 302.5h2M424 302.5h5M482 302.5h4M506 302.5h3M518 302.5h2M528 302.5h1M640 302.5h2M662 302.5h4M670 302.5h4M688 302.5h6M703 302.5h2M3 303.5h1M387 303.5h1M520 303.5h1M526 303.5h2M642 303.5h6M656 303.5h6M674 303.5h14M705 303.5h2M521 304.5h1M525 304.5h1M648 304.5h8M707 304.5h1M139 305.5h1M522 305.5h1M524 305.5h1M708 305.5h1M137 306.5h2M385 306.5h1M523 306.5h1M709 306.5h1M135 307.5h2M384 307.5h1M710 307.5h1M754 307.5h1M133 308.5h2M754 308.5h1M128 309.5h5M898 309.5h6M122 310.5h6M363 310.5h10M382 310.5h1M712 310.5h1M896 310.5h2M904 310.5h4M118 311.5h4M361 311.5h2M373 311.5h2M381 311.5h1M713 311.5h1M893 311.5h3M112 312.5h6M143 312.5h1M359 312.5h2M375 312.5h2M714 312.5h1M794 312.5h6M808 312.5h8M867 312.5h5M880 312.5h13M106 313.5h6M357 313.5h2M377 313.5h2M715 313.5h1M751 313.5h1M790 313.5h4M800 313.5h8M816 313.5h8M840 313.5h8M865 313.5h2M872 313.5h8M90 314.5h6M102 314.5h4M348 314.5h9M379 314.5h1M716 314.5h2M739 314.5h1M787 314.5h3M824 314.5h16M848 314.5h5M864 314.5h1M72 315.5h8M86 315.5h4M96 315.5h6M718 315.5h2M738 315.5h1M740 315.5h2M786 315.5h1M853 315.5h3M862 315.5h2M42 316.5h4M58 316.5h14M80 316.5h6M720 316.5h1M737 316.5h1M742 316.5h1M785 316.5h1M856 316.5h2M860 316.5h2M38 317.5h4M46 317.5h4M54 317.5h4M721 317.5h2M736 317.5h1M743 317.5h1M784 317.5h1M858 317.5h2M11 318.5h2M35 318.5h3M50 318.5h4M723 318.5h1M744 318.5h2M782 318.5h2M13 319.5h2M33 319.5h2M724 319.5h2M746 319.5h1M781 319.5h1M15 320.5h2M31 320.5h2M726 320.5h2M734 320.5h1M747 320.5h1M780 320.5h1M17 321.5h2M29 321.5h2M728 321.5h1M733 321.5h1M779 321.5h1M19 322.5h10M729 322.5h2M732 322.5h1M778 322.5h1M731 323.5h1M777 323.5h1M776 324.5h1M764 325.5h1M775 325.5h1M765 326.5h2M774 326.5h1M767 327.5h2M773 327.5h1M769 328.5h2M772 328.5h1M771 329.5h1"/>
</g>
<g clip-path="url(#ca)" shape-rendering="crispEdges">
<path fill="none" stroke="#F5DEB3" stroke-width="1" d="M4.5 423v2M7.5 417v2M10.5 411v2M12.5 406v2M14.5 400v2M17.5 393v2M19.5 387v2M22.5 391v2M26.5 397v2M34.5 410v2M42.5 421v2M117.5 452v2M120.5 446v2M140.5 450v2M144.5 443v2M235.5 457v2M238.5 451v2M240.5 445v3M243.5 439v2M259.5 451v2M261.5 445v2M263.5 438v3M265.5 432v3M267.5 427v2M277.5 429v2M279.5 423v3M281.5 418v2M285.5 416v2M289.5 421v2M295.5 428v2M333.5 448v2M334.5 443v2M336.5 437v2M338.5 430v3M340.5 424v3M342.5 419v2M344.5 413v2M347.5 406v2M357.5 408v2M367.5 420v2M372.5 423v2M394.5 430v2M412.5 443v2M415.5 438v2M458.5 432v2M500.5 436v2M518.5 425v2M522.5 418v2M533.5 427v2M537.5 432v2M559.5 440v2M569.5 427v2M573.5 421v2M576.5 415v2M583.5 415v2M599.5 418v2M604.5 424v2M608.5 430v2M636.5 429v2M639.5 423v2M642.5 417v2M652.5 423v2M670.5 435v2M674.5 428v2M700.5 445v2M702.5 439v2M704.5 432v3M706.5 426v3M708.5 421v2M710.5 415v2M713.5 408v2M715.5 403v2M732.5 392v2M738.5 403v2M754.5 416v2M757.5 414v2M761.5 407v2M764.5 401v2M767.5 395v2M770.5 389v2M773.5 391v2M777.5 398v2M780.5 403v2M794.5 422v2M852.5 453v2M901.5 463v2M904.5 458v2M18 389.5h1M731 391.5h1M769 391.5h1M23 393.5h1M725 393.5h3M774 393.5h1M16 395.5h1M721 396.5h1M720 397.5h1M734 397.5h1M766 397.5h1M776 397.5h1M719 398.5h1M735 398.5h1M15 399.5h1M27 399.5h1M736 399.5h1M716 402.5h1M29 403.5h1M763 403.5h1M30 404.5h1M13 405.5h1M31 405.5h1M739 405.5h1M781 405.5h1M351 406.5h3M743 406.5h3M346 408.5h1M33 409.5h1M748 409.5h1M760 409.5h1M784 409.5h1M358 410.5h1M579 410.5h1M712 410.5h1M749 410.5h1M785 410.5h1M578 411.5h1M580 411.5h1M750 411.5h1M786 411.5h1M345 412.5h1M379 412.5h1M9 413.5h1M380 413.5h1M758 413.5h1M361 414.5h1M381 414.5h1M595 414.5h1M711 414.5h1M37 415.5h1M284 415.5h1M362 415.5h1M594 415.5h1M753 415.5h1M788 415.5h1M38 416.5h1M363 416.5h1M377 416.5h1M593 416.5h1M789 416.5h1M39 417.5h1M282 417.5h1M376 417.5h1M575 417.5h1M584 417.5h1M645 417.5h1M790 417.5h1M343 418.5h1M375 418.5h1M384 418.5h1M646 418.5h2M6 419.5h1M385 419.5h1M589 419.5h1M641 419.5h1M386 420.5h1M521 420.5h1M526 420.5h1M588 420.5h1M600 420.5h1M709 420.5h1M527 421.5h1M587 421.5h1M793 421.5h1M368 422.5h1M373 422.5h1M528 422.5h1M651 422.5h1M43 423.5h1M290 423.5h1M572 423.5h1M389 424.5h1M483 424.5h1M519 424.5h1M3 425.5h1M390 425.5h1M482 425.5h1M638 425.5h1M47 426.5h1M391 426.5h1M481 426.5h1M532 426.5h1M605 426.5h1M48 427.5h2M294 427.5h1M426 427.5h1M464 427.5h2M469 427.5h1M508 427.5h1M798 427.5h1M268 428.5h1M424 428.5h2M463 428.5h1M470 428.5h2M487 428.5h1M509 428.5h2M655 428.5h1M799 428.5h1M430 429.5h1M488 429.5h1M568 429.5h1M656 429.5h1M800 429.5h1M431 430.5h1M477 430.5h1M489 430.5h1M505 430.5h1M514 430.5h1M516 430.5h1M657 430.5h1M673 430.5h1M678 430.5h2M53 431.5h1M272 431.5h1M276 431.5h1M420 431.5h1M432 431.5h1M459 431.5h1M476 431.5h1M504 431.5h1M515 431.5h1M635 431.5h1M680 431.5h1M54 432.5h1M273 432.5h1M395 432.5h1M419 432.5h1M475 432.5h1M503 432.5h1M609 432.5h1M55 433.5h1M274 433.5h1M299 433.5h3M418 433.5h1M493 433.5h1M565 433.5h1M804 433.5h1M305 434.5h1M494 434.5h1M538 434.5h1M564 434.5h1M632 434.5h1M660 434.5h1M671 434.5h1M805 434.5h1M306 435.5h2M399 435.5h1M436 435.5h1M495 435.5h1M563 435.5h1M630 435.5h2M661 435.5h1M684 435.5h1M806 435.5h1M187 436.5h1M337 436.5h1M400 436.5h1M437 436.5h1M612 436.5h2M662 436.5h1M685 436.5h1M58 437.5h1M186 437.5h1M188 437.5h1M401 437.5h1M416 437.5h1M438 437.5h1M455 437.5h1M614 437.5h1M686 437.5h1M817 437.5h2M59 438.5h1M147 438.5h1M311 438.5h1M454 438.5h1M499 438.5h1M542 438.5h2M625 438.5h2M703 438.5h1M816 438.5h1M60 439.5h1M146 439.5h1M148 439.5h1M312 439.5h1M453 439.5h1M544 439.5h1M560 439.5h1M624 439.5h1M810 439.5h1M822 439.5h2M192 440.5h2M313 440.5h1M405 440.5h1M442 440.5h1M618 440.5h1M666 440.5h1M668 440.5h1M690 440.5h1M811 440.5h2M824 440.5h1M123 441.5h1M182 441.5h1M194 441.5h1M242 441.5h1M406 441.5h1M443 441.5h2M619 441.5h2M667 441.5h1M691 441.5h1M64 442.5h1M122 442.5h1M124 442.5h1M152 442.5h2M181 442.5h1M247 442.5h1M335 442.5h1M407 442.5h1M448 442.5h3M548 442.5h1M692 442.5h1M859 442.5h1M65 443.5h1M154 443.5h1M180 443.5h1M248 443.5h1M317 443.5h1M549 443.5h2M828 443.5h3M834 443.5h2M860 443.5h2M66 444.5h1M128 444.5h1M249 444.5h1M262 444.5h1M318 444.5h1M701 444.5h1M836 444.5h1M129 445.5h2M143 445.5h1M198 445.5h2M319 445.5h1M411 445.5h1M554 445.5h1M556 445.5h1M158 446.5h2M200 446.5h1M555 446.5h1M696 446.5h1M857 446.5h1M865 446.5h1M70 447.5h1M160 447.5h1M177 447.5h1M253 447.5h1M697 447.5h1M840 447.5h2M856 447.5h1M866 447.5h1M71 448.5h1M119 448.5h1M134 448.5h1M176 448.5h1M254 448.5h1M323 448.5h1M698 448.5h1M842 448.5h1M855 448.5h1M867 448.5h1M72 449.5h1M135 449.5h1M141 449.5h1M175 449.5h1M255 449.5h1M324 449.5h2M82 450.5h2M136 450.5h1M164 450.5h2M204 450.5h2M260 450.5h1M332 450.5h1M76 451.5h3M84 451.5h1M166 451.5h1M206 451.5h1M846 451.5h1M871 451.5h1M329 452.5h1M847 452.5h1M853 452.5h1M872 452.5h1M88 453.5h1M107 453.5h2M170 453.5h1M172 453.5h1M210 453.5h1M237 453.5h1M330 453.5h1M848 453.5h1M873 453.5h1M907 453.5h1M89 454.5h2M106 454.5h1M116 454.5h1M171 454.5h1M211 454.5h1M331 454.5h1M112 455.5h1M212 455.5h1M94 456.5h1M113 456.5h2M877 456.5h2M95 457.5h2M102 457.5h1M216 457.5h1M879 457.5h1M905 457.5h1M100 458.5h2M217 458.5h2M234 459.5h1M883 459.5h2M222 460.5h2M885 460.5h1M224 461.5h1M229 461.5h2M889 461.5h1M228 462.5h1M890 462.5h2M895 464.5h1M896 465.5h1M900 465.5h1M897 466.5h1"/>
<path fill="none" stroke="#9ACD32" stroke-width="1" d="M27.5 449v2M29.5 443v3M31.5 437v3M33.5 431v2M35.5 425v2M86.5 456v2M89.5 450v2M109.5 452v2M112.5 446v2M126.5 440v2M129.5 434v2M156.5 423v2M159.5 417v2M162.5 411v2M183.5 431v2M187.5 434v2M189.5 427v3M190.5 422v2M192.5 415v3M193.5 410v2M195.5 404v2M198.5 398v2M202.5 391v2M205.5 393v2M209.5 399v2M212.5 400v2M215.5 393v2M217.5 388v2M231.5 394v2M234.5 399v2M239.5 406v2M266.5 424v2M284.5 426v2M286.5 420v2M288.5 413v3M290.5 407v3M292.5 405v2M308.5 421v2M316.5 409v2M318.5 403v3M320.5 398v2M323.5 391v2M327.5 396v2M334.5 407v2M338.5 414v2M343.5 420v2M364.5 432v3M366.5 426v3M368.5 421v2M370.5 415v2M374.5 417v2M378.5 423v2M388.5 416v2M397.5 404v2M406.5 402v2M409.5 407v2M418.5 420v2M428.5 427v2M436.5 414v3M438.5 408v3M440.5 402v3M442.5 396v3M458.5 415v2M532.5 438v2M534.5 431v3M536.5 425v3M538.5 419v2M540.5 413v2M542.5 408v2M545.5 401v2M548.5 398v2M552.5 404v2M556.5 410v2M565.5 422v2M569.5 427v2M597.5 445v2M599.5 439v2M601.5 433v3M692.5 447v2M694.5 441v2M696.5 435v3M698.5 429v3M772.5 461v2M775.5 455v2M778.5 449v2M799.5 435v2M802.5 430v2M891.5 471v2M893.5 464v3M895.5 458v2M896.5 453v2M898.5 446v3M220 384.5h1M221 385.5h2M218 387.5h1M226 387.5h1M227 388.5h1M228 389.5h1M201 393.5h1M230 393.5h1M322 393.5h1M206 395.5h1M214 395.5h1M326 395.5h1M444 396.5h1M199 397.5h1M321 397.5h1M403 397.5h1M445 397.5h1M547 397.5h1M402 398.5h1M446 398.5h1M213 399.5h1M401 399.5h1M210 401.5h1M235 401.5h1M330 401.5h1M405 401.5h1M331 402.5h1M448 402.5h1M196 403.5h1M332 403.5h1M398 403.5h1M449 403.5h1M544 403.5h1M551 403.5h1M450 404.5h1M238 405.5h1M293 407.5h1M543 407.5h1M452 408.5h1M194 409.5h1M335 409.5h1M394 409.5h1M410 409.5h1M453 409.5h1M555 409.5h1M393 410.5h1M454 410.5h1M242 411.5h1M296 411.5h1M315 411.5h1M392 411.5h1M243 412.5h1M297 412.5h1M161 413.5h1M166 413.5h1M244 413.5h1M298 413.5h1M337 413.5h1M412 413.5h1M167 414.5h1M371 414.5h1M413 414.5h1M457 414.5h1M168 415.5h1M313 415.5h1M389 415.5h1M414 415.5h1M539 415.5h1M559 415.5h1M312 416.5h1M373 416.5h1M560 416.5h1M246 417.5h1M257 417.5h1M260 417.5h1M301 417.5h1M311 417.5h1M561 417.5h1M247 418.5h1M256 418.5h1M261 418.5h1M302 418.5h1M499 418.5h1M158 419.5h1M172 419.5h1M248 419.5h1M255 419.5h1M262 419.5h1M287 419.5h1M303 419.5h1M342 419.5h1M417 419.5h1M498 419.5h1M500 419.5h1M173 420.5h1M369 420.5h1M434 420.5h1M462 420.5h1M174 421.5h1M191 421.5h1M384 421.5h1M433 421.5h1M463 421.5h1M537 421.5h1M564 421.5h1M377 422.5h1M382 422.5h2M432 422.5h1M464 422.5h1M474 422.5h2M494 422.5h1M139 423.5h1M250 423.5h1M252 423.5h1M265 423.5h1M276 423.5h1M307 423.5h1M476 423.5h1M493 423.5h1M504 423.5h1M138 424.5h1M140 424.5h1M251 424.5h1M271 424.5h2M277 424.5h1M469 424.5h2M492 424.5h1M505 424.5h1M155 425.5h1M177 425.5h1M270 425.5h1M278 425.5h1M285 425.5h1M347 425.5h1M422 425.5h2M468 425.5h1M506 425.5h1M3 426.5h1M178 426.5h1M348 426.5h1M424 426.5h1M429 426.5h1M480 426.5h1M4 427.5h1M34 427.5h1M39 427.5h1M179 427.5h1M349 427.5h1M481 427.5h1M487 427.5h2M510 427.5h1M5 428.5h1M40 428.5h1M134 428.5h1M144 428.5h1M152 428.5h1M482 428.5h1M486 428.5h1M511 428.5h2M701 428.5h1M41 429.5h1M133 429.5h1M145 429.5h1M150 429.5h2M281 429.5h1M570 429.5h1M603 429.5h1M702 429.5h1M803 429.5h1M132 430.5h1M146 430.5h1M282 430.5h1M604 430.5h1M703 430.5h1M283 431.5h1M353 431.5h1M516 431.5h2M605 431.5h1M8 432.5h1M45 432.5h1M354 432.5h1M518 432.5h1M807 432.5h1M9 433.5h1M32 433.5h1M46 433.5h1M184 433.5h1M188 433.5h1M355 433.5h1M574 433.5h1M707 433.5h1M808 433.5h1M10 434.5h1M47 434.5h1M359 434.5h1M575 434.5h1M708 434.5h1M809 434.5h1M360 435.5h2M522 435.5h1M576 435.5h1M609 435.5h1M709 435.5h1M128 436.5h1M523 436.5h1M610 436.5h1M524 437.5h1M533 437.5h1M611 437.5h1M798 437.5h1M827 437.5h1M14 438.5h2M51 438.5h1M813 438.5h1M826 438.5h1M16 439.5h1M52 439.5h1M580 439.5h2M713 439.5h1M814 439.5h2M825 439.5h1M831 439.5h1M53 440.5h1M528 440.5h2M582 440.5h1M714 440.5h1M832 440.5h1M115 441.5h1M530 441.5h1M598 441.5h1M615 441.5h1M715 441.5h1M796 441.5h1M833 441.5h1M116 442.5h2M125 442.5h1M616 442.5h1M795 442.5h1M820 442.5h2M20 443.5h1M586 443.5h1M617 443.5h1M693 443.5h1M794 443.5h1M819 443.5h1M21 444.5h1M57 444.5h1M587 444.5h1M837 444.5h1M22 445.5h1M58 445.5h1M113 445.5h1M121 445.5h2M588 445.5h1M719 445.5h1M838 445.5h1M901 445.5h1M59 446.5h1M123 446.5h1M621 446.5h1M720 446.5h1M839 446.5h1M902 446.5h2M596 447.5h1M622 447.5h1M721 447.5h1M791 447.5h1M92 448.5h2M592 448.5h2M623 448.5h1M779 448.5h1M790 448.5h1M26 449.5h1M63 449.5h1M94 449.5h1M594 449.5h1M668 449.5h2M691 449.5h1M783 449.5h1M789 449.5h1M907 449.5h1M64 450.5h2M670 450.5h1M725 450.5h1M784 450.5h2M843 450.5h1M98 451.5h1M110 451.5h1M627 451.5h1M664 451.5h1M726 451.5h2M844 451.5h2M88 452.5h1M99 452.5h2M628 452.5h2M663 452.5h1M674 452.5h1M897 452.5h1M69 453.5h1M662 453.5h1M675 453.5h1M688 453.5h1M70 454.5h2M104 454.5h1M676 454.5h1M687 454.5h1M731 454.5h2M776 454.5h1M849 454.5h1M105 455.5h2M633 455.5h1M686 455.5h1M733 455.5h1M850 455.5h1M634 456.5h1M680 456.5h1M851 456.5h1M75 457.5h1M635 457.5h1M658 457.5h1M681 457.5h2M737 457.5h2M76 458.5h2M85 458.5h1M657 458.5h1M739 458.5h1M755 458.5h2M855 458.5h2M639 459.5h2M656 459.5h1M757 459.5h1M857 459.5h1M641 460.5h1M743 460.5h2M751 460.5h1M761 460.5h1M773 460.5h1M861 460.5h1M894 460.5h1M81 461.5h2M745 461.5h1M749 461.5h2M762 461.5h2M862 461.5h2M83 462.5h1M645 462.5h2M767 462.5h1M867 462.5h1M647 463.5h1M653 463.5h1M768 463.5h2M868 463.5h2M652 464.5h1M651 465.5h1M873 466.5h2M875 467.5h1M879 468.5h3M885 470.5h3M892 470.5h1"/>
<path fill="none" stroke="#FF0000" stroke-width="1" d="M31.5 401v2M39.5 410v2M197.5 430v2M201.5 425v2M212.5 413v2M213.5 411v2M215.5 408v2M217.5 405v2M218.5 403v2M220.5 400v2M222.5 397v2M224.5 394v2M226.5 391v2M260.5 394v2M261.5 396v2M263.5 399v2M265.5 402v2M266.5 404v2M319.5 423v2M636.5 441v2M638.5 438v2M640.5 435v2M642.5 432v2M644.5 429v2M647.5 425v2M650.5 421v2M717.5 425v2M721.5 420v2M725.5 415v2M729.5 410v2M735.5 403v2M765.5 379v2M769.5 374v2M791.5 378v2M796.5 384v2M797.5 386v2M799.5 389v2M801.5 392v2M802.5 394v2M804.5 397v2M807.5 401v2M810.5 405v2M815.5 411v2M839.5 435v2M776 371.5h5M771 372.5h5M781 372.5h3M770 373.5h1M784 373.5h2M786 374.5h2M788 375.5h1M768 376.5h1M789 376.5h1M767 377.5h1M790 377.5h1M766 378.5h1M792 380.5h1M764 381.5h1M793 381.5h1M763 382.5h1M794 382.5h1M762 383.5h1M795 383.5h1M235 384.5h1M761 384.5h1M234 385.5h1M236 385.5h2M760 385.5h1M232 386.5h2M238 386.5h1M758 386.5h2M231 387.5h1M239 387.5h1M757 387.5h1M230 388.5h1M240 388.5h2M756 388.5h1M798 388.5h1M228 389.5h2M242 389.5h1M754 389.5h2M227 390.5h1M243 390.5h2M750 390.5h4M245 391.5h2M747 391.5h3M800 391.5h1M247 392.5h2M746 392.5h1M225 393.5h1M249 393.5h2M256 393.5h4M745 393.5h1M251 394.5h5M744 394.5h1M743 395.5h1M223 396.5h1M742 396.5h1M803 396.5h1M27 397.5h1M741 397.5h1M25 398.5h2M28 398.5h1M262 398.5h1M740 398.5h1M23 399.5h2M29 399.5h1M221 399.5h1M739 399.5h1M805 399.5h1M21 400.5h2M30 400.5h1M738 400.5h1M806 400.5h1M3 401.5h2M19 401.5h2M264 401.5h1M737 401.5h1M5 402.5h2M17 402.5h2M219 402.5h1M736 402.5h1M7 403.5h2M15 403.5h2M32 403.5h1M808 403.5h1M9 404.5h2M13 404.5h2M33 404.5h1M809 404.5h1M11 405.5h2M34 405.5h1M734 405.5h1M35 406.5h1M267 406.5h1M733 406.5h1M36 407.5h1M216 407.5h1M268 407.5h1M732 407.5h1M811 407.5h1M37 408.5h1M269 408.5h1M731 408.5h1M812 408.5h1M38 409.5h1M270 409.5h2M730 409.5h1M813 409.5h1M214 410.5h1M272 410.5h1M814 410.5h1M273 411.5h1M331 411.5h1M40 412.5h1M274 412.5h1M330 412.5h1M332 412.5h1M728 412.5h1M41 413.5h1M275 413.5h1M329 413.5h1M333 413.5h1M727 413.5h1M816 413.5h1M42 414.5h1M276 414.5h2M328 414.5h1M334 414.5h2M726 414.5h1M817 414.5h1M43 415.5h1M211 415.5h1M278 415.5h2M327 415.5h1M336 415.5h1M818 415.5h1M44 416.5h1M210 416.5h1M280 416.5h1M326 416.5h1M337 416.5h1M819 416.5h1M45 417.5h1M209 417.5h1M281 417.5h2M325 417.5h1M338 417.5h1M724 417.5h1M820 417.5h1M46 418.5h1M208 418.5h1M283 418.5h2M324 418.5h1M339 418.5h2M723 418.5h1M821 418.5h1M47 419.5h1M207 419.5h1M285 419.5h2M323 419.5h1M341 419.5h2M722 419.5h1M822 419.5h2M48 420.5h1M206 420.5h1M287 420.5h2M322 420.5h1M343 420.5h2M651 420.5h9M824 420.5h1M49 421.5h1M205 421.5h1M289 421.5h2M321 421.5h1M345 421.5h2M660 421.5h2M682 421.5h2M825 421.5h1M50 422.5h1M204 422.5h1M291 422.5h2M320 422.5h1M347 422.5h5M662 422.5h1M680 422.5h2M684 422.5h2M720 422.5h1M826 422.5h1M51 423.5h1M203 423.5h1M293 423.5h2M352 423.5h5M649 423.5h1M663 423.5h1M677 423.5h3M686 423.5h1M719 423.5h1M827 423.5h1M52 424.5h2M202 424.5h1M295 424.5h2M357 424.5h2M648 424.5h1M664 424.5h2M674 424.5h3M687 424.5h1M718 424.5h1M828 424.5h1M54 425.5h2M297 425.5h2M318 425.5h1M359 425.5h2M666 425.5h1M670 425.5h4M688 425.5h2M829 425.5h1M56 426.5h1M299 426.5h2M317 426.5h1M361 426.5h2M667 426.5h3M690 426.5h1M696 426.5h4M830 426.5h1M57 427.5h2M200 427.5h1M301 427.5h2M316 427.5h1M363 427.5h2M646 427.5h1M691 427.5h5M700 427.5h2M716 427.5h1M831 427.5h1M59 428.5h2M171 428.5h2M199 428.5h1M303 428.5h2M314 428.5h2M365 428.5h2M645 428.5h1M702 428.5h1M715 428.5h1M832 428.5h1M61 429.5h2M170 429.5h1M173 429.5h3M198 429.5h1M305 429.5h2M310 429.5h4M367 429.5h2M703 429.5h1M713 429.5h2M833 429.5h1M899 429.5h1M63 430.5h2M169 430.5h1M176 430.5h2M307 430.5h3M369 430.5h2M411 430.5h1M451 430.5h2M704 430.5h2M711 430.5h2M834 430.5h1M897 430.5h2M900 430.5h2M65 431.5h2M168 431.5h1M178 431.5h2M371 431.5h2M409 431.5h2M412 431.5h2M449 431.5h2M453 431.5h2M643 431.5h1M706 431.5h1M709 431.5h2M835 431.5h1M896 431.5h1M902 431.5h1M67 432.5h2M167 432.5h1M180 432.5h1M196 432.5h1M373 432.5h2M408 432.5h1M414 432.5h1M448 432.5h1M455 432.5h2M707 432.5h2M836 432.5h1M894 432.5h2M903 432.5h1M69 433.5h2M166 433.5h1M181 433.5h1M195 433.5h1M375 433.5h2M406 433.5h2M415 433.5h1M446 433.5h2M457 433.5h2M837 433.5h1M892 433.5h2M904 433.5h2M71 434.5h2M165 434.5h1M182 434.5h1M194 434.5h1M377 434.5h2M404 434.5h2M416 434.5h2M444 434.5h2M459 434.5h1M595 434.5h1M641 434.5h1M838 434.5h1M890 434.5h2M906 434.5h1M73 435.5h2M164 435.5h1M183 435.5h1M192 435.5h2M379 435.5h1M403 435.5h1M418 435.5h1M443 435.5h1M460 435.5h1M594 435.5h1M596 435.5h2M886 435.5h4M907 435.5h1M75 436.5h5M163 436.5h1M184 436.5h1M191 436.5h1M380 436.5h2M402 436.5h1M419 436.5h1M442 436.5h1M461 436.5h1M555 436.5h2M592 436.5h2M598 436.5h1M880 436.5h6M80 437.5h6M162 437.5h1M185 437.5h1M190 437.5h1M382 437.5h1M400 437.5h2M420 437.5h2M441 437.5h1M462 437.5h2M554 437.5h1M557 437.5h3M591 437.5h1M599 437.5h1M639 437.5h1M840 437.5h1M874 437.5h6M86 438.5h4M161 438.5h1M186 438.5h1M188 438.5h2M383 438.5h1M399 438.5h1M422 438.5h2M440 438.5h1M464 438.5h1M553 438.5h1M560 438.5h2M590 438.5h1M600 438.5h2M841 438.5h1M870 438.5h4M90 439.5h4M139 439.5h2M160 439.5h1M187 439.5h1M384 439.5h2M398 439.5h1M424 439.5h1M439 439.5h1M465 439.5h1M552 439.5h1M562 439.5h2M588 439.5h2M602 439.5h1M842 439.5h1M866 439.5h4M94 440.5h4M138 440.5h1M141 440.5h2M158 440.5h2M386 440.5h1M396 440.5h2M425 440.5h2M438 440.5h1M466 440.5h1M551 440.5h1M564 440.5h2M586 440.5h2M603 440.5h2M637 440.5h1M843 440.5h1M862 440.5h4M98 441.5h3M136 441.5h2M143 441.5h2M157 441.5h1M387 441.5h9M427 441.5h3M437 441.5h1M467 441.5h3M550 441.5h1M566 441.5h1M582 441.5h4M605 441.5h2M844 441.5h2M859 441.5h3M101 442.5h3M114 442.5h3M135 442.5h1M145 442.5h2M156 442.5h1M430 442.5h4M436 442.5h1M470 442.5h4M549 442.5h1M567 442.5h1M578 442.5h4M607 442.5h2M846 442.5h2M857 442.5h2M104 443.5h2M110 443.5h4M117 443.5h2M134 443.5h1M147 443.5h9M434 443.5h2M474 443.5h3M548 443.5h1M568 443.5h2M576 443.5h2M609 443.5h2M635 443.5h1M848 443.5h1M855 443.5h2M106 444.5h4M119 444.5h2M132 444.5h2M477 444.5h2M547 444.5h1M570 444.5h1M573 444.5h3M611 444.5h2M633 444.5h2M849 444.5h2M853 444.5h2M121 445.5h2M128 445.5h4M479 445.5h2M546 445.5h1M571 445.5h2M613 445.5h2M632 445.5h1M851 445.5h2M123 446.5h5M481 446.5h2M545 446.5h1M615 446.5h2M630 446.5h2M483 447.5h2M544 447.5h1M617 447.5h2M628 447.5h2M485 448.5h2M542 448.5h2M619 448.5h9M487 449.5h2M498 449.5h3M541 449.5h1M489 450.5h2M494 450.5h4M501 450.5h2M540 450.5h1M491 451.5h3M503 451.5h2M538 451.5h2M505 452.5h2M534 452.5h4M507 453.5h2M528 453.5h6M509 454.5h2M522 454.5h6M511 455.5h2M520 455.5h2M513 456.5h2M517 456.5h3M515 457.5h2"/>
</g>
<g shape-rendering="crispEdges" fill="#000080">
<rect x="2" y="2" width="959" height="1"/>
<rect x="2" y="241" width="959" height="1"/>
<rect x="2" y="2" width="1" height="240"/>
<rect x="2" y="243" width="959" height="1"/>
<rect x="2" y="362" width="959" height="1"/>
<rect x="2" y="243" width="1" height="120"/>
<rect x="2" y="364" width="959" height="1"/>
<rect x="2" y="482" width="959" height="1"/>
<rect x="2" y="364" width="1" height="119"/>
<rect x="960" y="2" width="1" height="361"/>
<rect x="960" y="364" width="1" height="119"/>
<rect x="961" y="23" width="2" height="1"/>
<rect x="961" y="59" width="2" height="1"/>
<rect x="961" y="94" width="2" height="1"/>
<rect x="961" y="130" width="2" height="1"/>
<rect x="961" y="165" width="2" height="1"/>
<rect x="961" y="201" width="2" height="1"/>
<rect x="961" y="237" width="2" height="1"/>
<rect x="961" y="245" width="1" height="1"/>
<rect x="961" y="361" width="1" height="1"/>
<rect x="961" y="366" width="1" height="1"/>
<rect x="961" y="481" width="1" height="1"/>
<rect x="3" y="483" width="1" height="3"/>
<rect x="67" y="483" width="1" height="3"/>
<rect x="131" y="483" width="1" height="3"/>
<rect x="195" y="483" width="1" height="3"/>
<rect x="259" y="483" width="1" height="3"/>
<rect x="323" y="483" width="1" height="3"/>
<rect x="387" y="483" width="1" height="3"/>
<rect x="451" y="483" width="1" height="3"/>
<rect x="515" y="483" width="1" height="3"/>
<rect x="579" y="483" width="1" height="3"/>
<rect x="643" y="483" width="1" height="3"/>
<rect x="707" y="483" width="1" height="3"/>
<rect x="771" y="483" width="1" height="3"/>
<rect x="835" y="483" width="1" height="3"/>
<rect x="899" y="483" width="1" height="3"/>
<rect x="6" y="9" width="7" height="1"/><rect x="7" y="10" width="5" height="1"/><rect x="8" y="11" width="3" height="1"/><rect x="9" y="12" width="1" height="1"/>
</g>
<text x="18.4" y="14" textLength="53.2" lengthAdjust="spacingAndGlyphs" >GBPUSD,H1</text>
<text x="7.6" y="256" textLength="67.6" lengthAdjust="spacingAndGlyphs" >RSI(14) 43.6666</text>
<text x="8" y="377" textLength="34" lengthAdjust="spacingAndGlyphs" >ADX(14)</text>
<text x="46" y="377" textLength="31.5" lengthAdjust="spacingAndGlyphs" >17.3419</text>
<text x="82" y="377" textLength="52.5" lengthAdjust="spacingAndGlyphs" >+DI:12.6693</text>
<text x="138.5" y="377" textLength="49.5" lengthAdjust="spacingAndGlyphs" >-DI:11.7748</text>
<text x="966.8" y="26" textLength="27.3" lengthAdjust="spacingAndGlyphs" >1.5435</text>
<text x="966.8" y="62" textLength="27.3" lengthAdjust="spacingAndGlyphs" >1.5390</text>
<text x="966.8" y="97" textLength="27.3" lengthAdjust="spacingAndGlyphs" >1.5345</text>
<text x="966.8" y="133" textLength="27.3" lengthAdjust="spacingAndGlyphs" >1.5300</text>
<text x="966.8" y="168" textLength="27.3" lengthAdjust="spacingAndGlyphs" >1.5255</text>
<text x="966.8" y="204" textLength="27.3" lengthAdjust="spacingAndGlyphs" >1.5210</text>
<text x="966.8" y="240" textLength="27.3" lengthAdjust="spacingAndGlyphs" >1.5165</text>
<text x="964.5" y="254" textLength="14.5" lengthAdjust="spacingAndGlyphs" >100</text>
<text x="964" y="283" textLength="9.5" lengthAdjust="spacingAndGlyphs" >70</text>
<text x="963.5" y="329" textLength="9.5" lengthAdjust="spacingAndGlyphs" >30</text>
<text x="964.5" y="359" textLength="4.8" lengthAdjust="spacingAndGlyphs" >0</text>
<text x="964" y="375" textLength="9.7" lengthAdjust="spacingAndGlyphs" >39</text>
<text x="964" y="479" textLength="4.8" lengthAdjust="spacingAndGlyphs" >3</text>
<text x="2.4" y="495" textLength="44" lengthAdjust="spacingAndGlyphs" >1 Jun 2015</text>
<text x="66.4" y="495" textLength="47.6" lengthAdjust="spacingAndGlyphs" >2 Jun 00:00</text>
<text x="130.4" y="495" textLength="47.6" lengthAdjust="spacingAndGlyphs" >2 Jun 08:00</text>
<text x="194.4" y="495" textLength="47.6" lengthAdjust="spacingAndGlyphs" >2 Jun 16:00</text>
<text x="258.4" y="495" textLength="47.6" lengthAdjust="spacingAndGlyphs" >3 Jun 00:00</text>
<text x="322.4" y="495" textLength="47.6" lengthAdjust="spacingAndGlyphs" >3 Jun 08:00</text>
<text x="386.4" y="495" textLength="47.6" lengthAdjust="spacingAndGlyphs" >3 Jun 16:00</text>
<text x="450.4" y="495" textLength="47.6" lengthAdjust="spacingAndGlyphs" >4 Jun 00:00</text>
<text x="514.4" y="495" textLength="47.6" lengthAdjust="spacingAndGlyphs" >4 Jun 08:00</text>
<text x="578.4" y="495" textLength="47.6" lengthAdjust="spacingAndGlyphs" >4 Jun 16:00</text>
<text x="642.4" y="495" textLength="47.6" lengthAdjust="spacingAndGlyphs" >5 Jun 00:00</text>
<text x="706.4" y="495" textLength="47.6" lengthAdjust="spacingAndGlyphs" >5 Jun 08:00</text>
<text x="770.4" y="495" textLength="47.6" lengthAdjust="spacingAndGlyphs" >5 Jun 16:00</text>
<text x="834.4" y="495" textLength="47.6" lengthAdjust="spacingAndGlyphs" >8 Jun 00:00</text>
<text x="898.4" y="495" textLength="47.6" lengthAdjust="spacingAndGlyphs" >8 Jun 08:00</text>
<rect x="962" y="34" width="36" height="11" fill="#0000FF" shape-rendering="crispEdges"/>
<text x="966.8" y="43" textLength="27.3" lengthAdjust="spacingAndGlyphs" style="fill:#FFFFFF;stroke:#FFFFFF" >1.5413</text>
<rect x="962" y="116" width="36" height="11" fill="#FF0000" shape-rendering="crispEdges"/>
<text x="966.8" y="125" textLength="27.3" lengthAdjust="spacingAndGlyphs" style="fill:#FFFFFF;stroke:#FFFFFF" >1.5311</text>
<rect x="962" y="150" width="36" height="11" fill="#FF0000" shape-rendering="crispEdges"/>
<text x="966.8" y="159" textLength="27.3" lengthAdjust="spacingAndGlyphs" style="fill:#FFFFFF;stroke:#FFFFFF" >1.5267</text>
<rect x="962" y="182" width="36" height="11" fill="#0000FF" shape-rendering="crispEdges"/>
<text x="966.8" y="191" textLength="27.3" lengthAdjust="spacingAndGlyphs" style="fill:#FFFFFF;stroke:#FFFFFF" >1.5227</text>
<g filter="url(#ds)" fill="none" stroke="#FF0000" stroke-linecap="round" stroke-linejoin="round">
<path stroke-width="2.3" d="M912.6,160.4 L915,165.5 L918,171.4 L920.5,175.5 L922.8,179.8 L925,182.8 L927,185.6 Q928.8,187.2 930.6,185 L933,181 L939.6,170 L944,163 L948,156.8 L948.6,154.6"/>
<path stroke-width="1.5" d="M948.6,154.6 Q955,152.2 962.4,151"/>
<path stroke-width="2.3" d="M962.4,151 Q965.2,152 967.2,155.6 L972,164.4 L975,170.5 L978,177.2 L983.2,189.4"/>
<path stroke-width="3.1" d="M967.6,175 L971,177.6 L974.4,180.8 L979,185.4 L983.2,189.4"/>
<path stroke-width="2.2" d="M987.6,168.2 L986.8,174 L985.8,179.6 L984.2,189.4"/>
<circle cx="967.8" cy="175" r="1" stroke-width="2.2"/>
</g>
</svg></body></html>
